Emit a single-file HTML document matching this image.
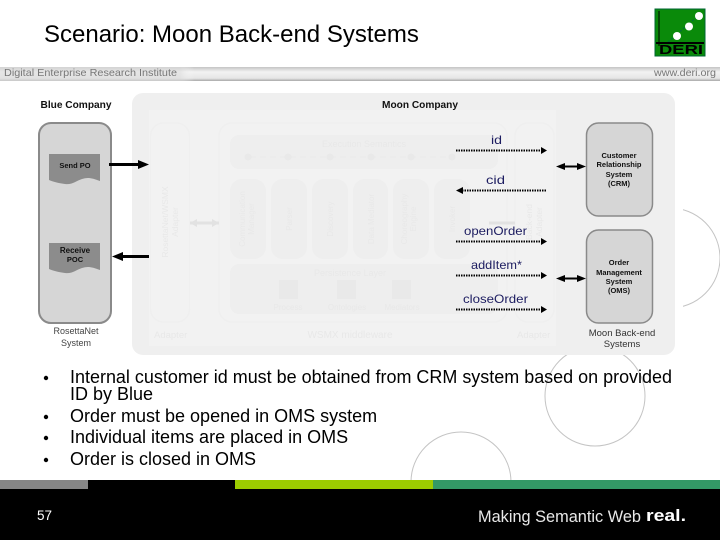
<!DOCTYPE html>
<html><head><meta charset="utf-8"><style>
html,body{margin:0;padding:0;background:#fff;width:720px;height:540px;overflow:hidden}
svg{display:block}
text{font-family:"Liberation Sans",sans-serif}
</style></head><body>
<svg width="720" height="540" viewBox="0 0 720 540" xmlns="http://www.w3.org/2000/svg">
<defs>
<linearGradient id="band" x1="0" y1="0" x2="0" y2="1"><stop offset="0" stop-color="#c4c4c4"/><stop offset=".35" stop-color="#f2f2f2"/><stop offset=".8" stop-color="#e6e6e6"/><stop offset="1" stop-color="#a8a8a8"/></linearGradient>
<linearGradient id="bandh" x1="0" y1="0" x2="1" y2="0"><stop offset="0" stop-color="#ddd"/><stop offset=".25" stop-color="#ddd"/><stop offset=".27" stop-color="#fff" stop-opacity="0"/></linearGradient>
</defs>
<rect width="720" height="540" fill="#fff"/>
<circle cx="670" cy="258" r="50" fill="none" stroke="#c4c4c4" stroke-width="1"/>
<rect x="660" y="200" width="23" height="115" fill="#fff"/>
<circle cx="595" cy="396" r="50" fill="none" stroke="#c4c4c4" stroke-width="1"/>
<circle cx="461" cy="482" r="50" fill="none" stroke="#c4c4c4" stroke-width="1"/>
<text x="44" y="42" font-size="24" fill="#000">Scenario: Moon Back-end Systems</text>
<rect x="0" y="67" width="720" height="14" fill="url(#band)"/>
<rect x="0" y="67" width="720" height="14" fill="url(#bandh)" opacity=".6"/>
<text x="4" y="76" font-size="10.5" fill="#777" textLength="173" lengthAdjust="spacingAndGlyphs">Digital Enterprise Research Institute</text>
<text x="654" y="76" font-size="10.5" fill="#777" textLength="62" lengthAdjust="spacingAndGlyphs">www.deri.org</text>
<rect x="655" y="9" width="50" height="47" fill="#0a8a0a" stroke="#063" stroke-width="1"/>
<line x1="659" y1="11" x2="659" y2="46" stroke="#000"/><line x1="668" y1="42" x2="699" y2="15" stroke="#064" stroke-dasharray="2 2"/>
<circle cx="677" cy="36" r="4" fill="#fff"/><circle cx="689" cy="26.500" r="4" fill="#fff"/><circle cx="699" cy="16" r="4" fill="#fff"/>
<rect x="656" y="42" width="48" height="2" fill="#000"/>
<text x="681" y="54" font-size="13" font-weight="bold" text-anchor="middle" fill="#000" textLength="44" lengthAdjust="spacingAndGlyphs">DERI</text>

<!-- Moon company panel -->
<rect x="132" y="93" width="543" height="262" rx="11" fill="#efefef"/>
<rect x="149" y="110" width="407" height="236" fill="#f2f2f2"/>
<g fill="none" stroke="#efefef" stroke-width="1.500">
<rect x="150.500" y="123" width="39" height="199" rx="13"/>
<rect x="219" y="123" width="288" height="199" rx="13"/>
<rect x="515" y="123" width="39" height="199" rx="13"/>
</g>
<g fill="#eeeeee">
<rect x="230" y="135" width="268" height="34" rx="9"/>
<rect x="230" y="179" width="36" height="80" rx="12"/><rect x="271" y="179" width="36" height="80" rx="12"/><rect x="312" y="179" width="36" height="80" rx="12"/><rect x="353" y="179" width="35" height="80" rx="12"/><rect x="393" y="179" width="36" height="80" rx="12"/><rect x="434" y="179" width="36" height="80" rx="12"/>
<rect x="230" y="264" width="268" height="50" rx="9"/>
</g>
<g fill="#e9e9e9"><circle cx="248" cy="157" r="3.500"/><circle cx="288" cy="157" r="3.500"/><circle cx="330" cy="157" r="3.500"/><circle cx="371" cy="157" r="3.500"/><circle cx="411" cy="157" r="3.500"/><circle cx="452" cy="157" r="3.500"/>
<rect x="279" y="280" width="19" height="19"/><rect x="337" y="280" width="19" height="19"/><rect x="392" y="280" width="19" height="19"/></g>
<line x1="250" y1="157" x2="452" y2="157" stroke="#e9e9e9" stroke-dasharray="6 4"/>
<path d="M190 223h29" stroke="#e2e2e2" stroke-width="3"/>
<path d="M190 223l7-4v8zM219 223l-7-4v8z" fill="#e2e2e2"/>
<path d="M489 223h26" stroke="#e2e2e2" stroke-width="3"/>
<g fill="#e8e8e8" font-size="9">
<text x="364" y="147" text-anchor="middle">Execution Semantics</text>
<text x="350" y="276" text-anchor="middle">Persistence Layer</text>
<text x="288" y="310" text-anchor="middle" font-size="8">Process</text><text x="347" y="310" text-anchor="middle" font-size="8">Ontologies</text><text x="402" y="310" text-anchor="middle" font-size="8">Mediators</text>
<text x="154" y="338" font-size="9.500">Adapter</text><text x="517" y="338" font-size="9.500">Adapter</text>
<text x="350" y="338" text-anchor="middle" font-size="10">WSMX middleware</text>
<text transform="translate(168,222) rotate(-90)" text-anchor="middle" font-size="8.500">RosettaNet/WSMX</text><text transform="translate(178,222) rotate(-90)" text-anchor="middle" font-size="8.500">Adapter</text>
<text transform="translate(245,219) rotate(-90)" text-anchor="middle" font-size="8">Communication</text><text transform="translate(254,219) rotate(-90)" text-anchor="middle" font-size="8">Manager</text>
<text transform="translate(292,219) rotate(-90)" text-anchor="middle" font-size="8">Parser</text>
<text transform="translate(333,219) rotate(-90)" text-anchor="middle" font-size="8">Discovery</text>
<text transform="translate(374,219) rotate(-90)" text-anchor="middle" font-size="8">Data Mediator</text>
<text transform="translate(407,219) rotate(-90)" text-anchor="middle" font-size="8">Choreography</text><text transform="translate(416,219) rotate(-90)" text-anchor="middle" font-size="8">Engine</text>
<text transform="translate(455,219) rotate(-90)" text-anchor="middle" font-size="8">Invoker</text>
<text transform="translate(532,222) rotate(-90)" text-anchor="middle" font-size="8.500">Back-end</text><text transform="translate(542,222) rotate(-90)" text-anchor="middle" font-size="8.500">Adapter</text>
</g>

<text x="76" y="108" font-size="10" font-weight="bold" text-anchor="middle" fill="#111" textLength="71" lengthAdjust="spacingAndGlyphs">Blue Company</text>
<text x="420" y="108" font-size="10" font-weight="bold" text-anchor="middle" fill="#111" textLength="76" lengthAdjust="spacingAndGlyphs">Moon Company</text>

<!-- Blue box -->
<rect x="39" y="123" width="72" height="200" rx="12" fill="#d6d6d6" stroke="#8a8a8a" stroke-width="2"/>
<path d="M49 154h51v27c-8-3-12-4-18-2s-10 6-17 5-11-2-16-4z" fill="#8c8c8c"/>
<path d="M49 243h51v27c-8-3-12-4-18-2s-10 6-17 5-11-2-16-4z" fill="#8c8c8c"/>
<text x="75" y="168" font-size="7.500" font-weight="bold" text-anchor="middle" fill="#111">Send PO</text>
<text x="75" y="253" font-size="8" font-weight="bold" text-anchor="middle" fill="#111">Receive</text>
<text x="75" y="262" font-size="7.500" font-weight="bold" text-anchor="middle" fill="#111">POC</text>
<text x="76" y="334" font-size="9" text-anchor="middle" fill="#444">RosettaNet</text>
<text x="76" y="346" font-size="9" text-anchor="middle" fill="#444">System</text>

<!-- Thick arrows -->
<path d="M109 164.500h32" stroke="#000" stroke-width="3"/><path d="M149 164.500l-11-4.500v9z" fill="#000"/>
<path d="M149 256.500h-27" stroke="#000" stroke-width="3"/><path d="M112 256.500l11-4.500v9z" fill="#000"/>

<!-- Dotted -->
<g stroke="#000" stroke-width="2" stroke-dasharray="1.500 1" fill="none">
<line x1="456" y1="150.500" x2="543" y2="150.500"/>
<line x1="462" y1="190.500" x2="546" y2="190.500"/>
<line x1="456" y1="241.500" x2="543" y2="241.500"/>
<line x1="456" y1="275.500" x2="543" y2="275.500"/>
<line x1="456" y1="309.500" x2="543" y2="309.500"/>
</g>
<g fill="#000">
<path d="M547 150.500l-6-3.500v7z"/><path d="M456 190.500l7-3.500v7z"/><path d="M547 241.500l-6-3.500v7z"/><path d="M547 275.500l-6-3.500v7z"/><path d="M547 309.500l-6-3.500v7z"/>
</g>
<g fill="#1c1c60" font-size="12" lengthAdjust="spacingAndGlyphs">
<text x="491" y="144" textLength="11" lengthAdjust="spacingAndGlyphs">id</text>
<text x="486" y="184" textLength="19" lengthAdjust="spacingAndGlyphs">cid</text>
<text x="464" y="235" textLength="63" lengthAdjust="spacingAndGlyphs">openOrder</text>
<text x="471" y="269" textLength="51" lengthAdjust="spacingAndGlyphs">addItem*</text>
<text x="463" y="303" textLength="65" lengthAdjust="spacingAndGlyphs">closeOrder</text>
</g>

<!-- Right boxes -->
<rect x="586.500" y="123" width="66" height="93" rx="12" fill="#d6d6d6" stroke="#8a8a8a" stroke-width="1.500"/>
<rect x="586.500" y="230" width="66" height="93" rx="12" fill="#d6d6d6" stroke="#8a8a8a" stroke-width="1.500"/>
<g font-size="7.500" font-weight="bold" text-anchor="middle" fill="#111">
<text x="619" y="158">Customer</text><text x="619" y="167">Relationship</text><text x="619" y="177">System</text><text x="619" y="186">(CRM)</text>
<text x="619" y="265">Order</text><text x="619" y="275">Management</text><text x="619" y="284">System</text><text x="619" y="293">(OMS)</text>
</g>
<text x="622" y="336" font-size="9.500" text-anchor="middle" fill="#333">Moon Back-end</text>
<text x="622" y="347" font-size="9.500" text-anchor="middle" fill="#333">Systems</text>
<g fill="#000">
<path d="M562 166.500h18" stroke="#000" stroke-width="2"/><path d="M556 166.500l9-3.500v7zM586 166.500l-9-3.500v7z"/>
<path d="M562 278.500h18" stroke="#000" stroke-width="2"/><path d="M556 278.500l9-3.500v7zM586 278.500l-9-3.500v7z"/>
</g>

<!-- Bullets -->
<g font-size="18" fill="#000">
<text x="70" y="383" textLength="602" lengthAdjust="spacingAndGlyphs">Internal customer id must be obtained from CRM system based on provided</text>
<text x="70" y="400">ID by Blue</text>
<text x="70" y="422">Order must be opened in OMS system</text>
<text x="70" y="443">Individual items are placed in OMS</text>
<text x="70" y="465">Order is closed in OMS</text>
</g>
<g fill="#000"><circle cx="46" cy="378" r="2.200"/><circle cx="46" cy="417" r="2.200"/><circle cx="46" cy="438" r="2.200"/><circle cx="46" cy="460" r="2.200"/></g>

<!-- Footer -->
<rect x="0" y="480" width="720" height="60" fill="#000"/>
<rect x="0" y="480" width="88" height="9" fill="#868686"/>
<rect x="235" y="480" width="198" height="9" fill="#9ccc00"/>
<rect x="433" y="480" width="287" height="9" fill="#339966"/>
<text x="37" y="520" font-size="13.500" fill="#fff">57</text>
<text x="478" y="522" font-size="16.500" fill="#e8e8e8" textLength="163" lengthAdjust="spacingAndGlyphs">Making Semantic Web</text>
<text x="646" y="521" font-size="17" font-weight="bold" fill="#fff" textLength="40" lengthAdjust="spacingAndGlyphs">real.</text>
</svg>
</body></html>
